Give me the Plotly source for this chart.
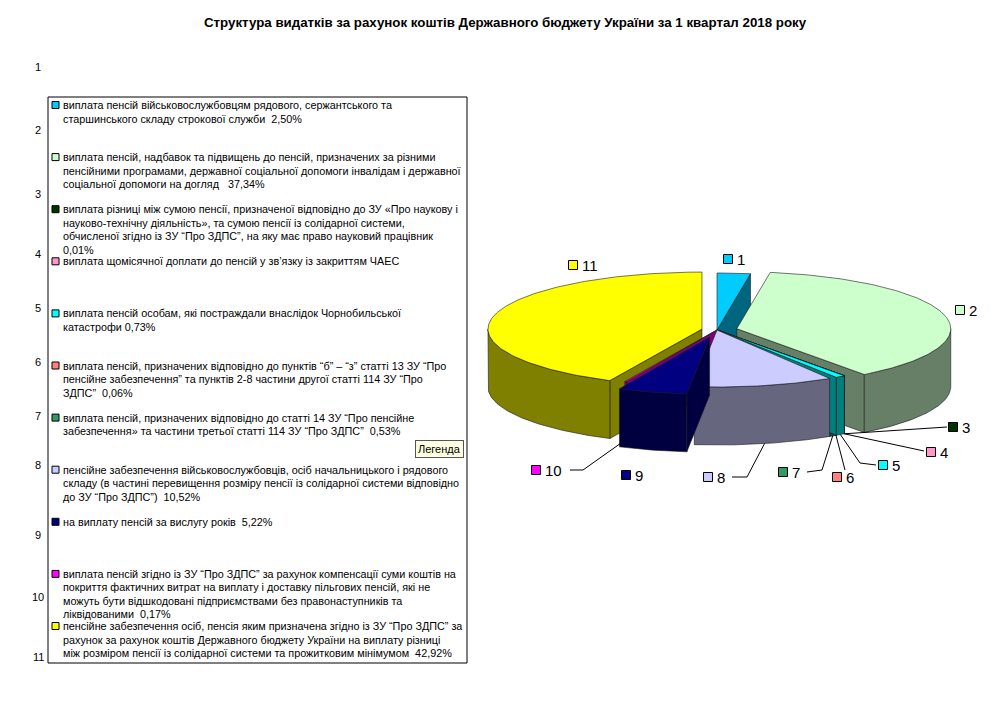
import numpy as np
import plotly.graph_objects as go

# ---------------- data ----------------
title_text = "Структура видатків за рахунок коштів Державного бюджету України за 1 квартал 2018 року"

slice_ids = ["1", "2", "3", "4", "5", "6", "7", "8", "9", "10", "11"]
# share of expenditures, % (item 4 has no value in the source, tiny placeholder)
shares = [2.50, 37.34, 0.01, 0.01, 0.73, 0.06, 0.53, 10.52, 5.22, 0.17, 42.92]

legend_lines = [
    ["виплата пенсій військовослужбовцям рядового, сержантського та",
     "старшинського складу строкової служби  2,50%"],
    ["виплата пенсій, надбавок та підвищень до пенсій, призначених за різними",
     "пенсійними програмами, державної соціальної допомоги інвалідам і державної",
     "соціальної допомоги на догляд   37,34%"],
    ["виплата різниці між сумою пенсії, призначеної відповідно до ЗУ «Про наукову і",
     "науково-технічну діяльність», та сумою пенсії із солідарної системи,",
     "обчисленої згідно із ЗУ “Про ЗДПС”, на яку має право науковий працівник",
     "0,01%"],
    ["виплата щомісячної доплати до пенсій у зв’язку із закриттям ЧАЕС"],
    ["виплата пенсій особам, які постраждали внаслідок Чорнобильської",
     "катастрофи 0,73%"],
    ["виплата пенсій, призначених відповідно до пунктів “б” – “з” статті 13 ЗУ “Про",
     "пенсійне забезпечення” та пунктів 2-8 частини другої статті 114 ЗУ “Про",
     "ЗДПС”  0,06%"],
    ["виплата пенсій, призначених відповідно до статті 14 ЗУ “Про пенсійне",
     "забезпечення» та частини третьої статті 114 ЗУ “Про ЗДПС”  0,53%"],
    ["пенсійне забезпечення військовослужбовців, осіб начальницького і рядового",
     "складу (в частині перевищення розміру пенсії із солідарної системи відповідно",
     "до ЗУ “Про ЗДПС”)  10,52%"],
    ["на виплату пенсій за вислугу років  5,22%"],
    ["виплата пенсій згідно із ЗУ “Про ЗДПС” за рахунок компенсації суми коштів на",
     "покриття фактичних витрат на виплату і доставку пільгових пенсій, які не",
     "можуть бути відшкодовані підприємствами без правонаступників та",
     "ліквідованими  0,17%"],
    ["пенсійне забезпечення осіб, пенсія яким призначена згідно із ЗУ “Про ЗДПС” за",
     "рахунок за рахунок коштів Державного бюджету України на виплату різниці",
     "між розміром пенсії із солідарної системи та прожитковим мінімумом  42,92%"],
]

row_labels = ["1", "2", "3", "4", "5", "6", "7", "8", "9", "10", "11"]

# ---------------- style / layout ----------------
top_colors = ["#00CCFF", "#CCFFCC", "#003300", "#FF99CC", "#00FFFF", "#FF8080",
              "#339966", "#CCCCFF", "#000080", "#FF00FF", "#FFFF00"]
explode = [0, 0.095, 0, 0, 0, 0, 0, 0, 0.13, 0, 0.072]

W, H = 995, 717
OFF = 8                  # default page margin of the html body
CX, CY = 717, 330        # pie centre (page pixels)
RX, RY = 214, 57         # ellipse radii
DEPTH = 58               # pie thickness
EDGE = dict(color="#1a1a1a", width=0.6)

# label square centres and leader end points (layout only)
label_pos = [(728, 259), (960, 310), (953, 427), (931, 452), (883, 465), (837, 477),
             (783, 472), (708, 477), (626, 475), (536, 470), (573, 265)]
leader_via = [None, None, [(947, 427)], [(924, 451)], [(860, 463), (876, 465)],
              [(845, 470)], [(822, 470), (807, 472)], [(747, 477), (732, 477)],
              None, [(583, 470), (570, 470)], None]

row_y = [67, 130, 194, 254, 308, 362, 416, 465, 535, 597, 657]
FONT = "Liberation Sans, Arial, sans-serif"
LEG_TOP, LEG_STEP, LINE_STEP = 105, 52.1, 13.5


def darker(hexcol):
    r, g, b = (int(hexcol[i:i + 2], 16) for i in (1, 3, 5))
    return "rgb(%d,%d,%d)" % (r // 2, g // 2, b // 2)


def pt(a, ox, oy, dz=0.0):
    t = np.radians(a)
    return CX + ox + RX * np.sin(t), CY + oy - RY * np.cos(t) + dz


def arc(a0, a1, ox, oy, dz=0.0):
    n = max(2, int(abs(a1 - a0)) + 2)
    ang = np.linspace(a0, a1, n)
    xs, ys = pt(ang, ox, oy, dz)
    return list(xs), list(ys)


def face(xs, ys, color):
    return go.Scatter(x=xs + [xs[0]], y=ys + [ys[0]], mode="lines", fill="toself",
                      fillcolor=color, line=EDGE, hoverinfo="skip", showlegend=False)


total = sum(shares)
cum = np.concatenate([[0], np.cumsum(shares)]) / total * 360.0

slices = []
for i, v in enumerate(shares):
    a0, a1 = cum[i], cum[i + 1]
    mid = (a0 + a1) / 2
    m = np.radians(mid)
    ox = explode[i] * RX * np.sin(m)
    oy = -explode[i] * RY * np.cos(m)
    traces = []
    side = darker(top_colors[i])
    cx0, cy0 = CX + ox, CY + oy
    # radial walls facing the viewer
    if np.sin(np.radians(a0)) < -1e-6:
        ex, ey = pt(a0, ox, oy)
        traces.append(face([cx0, ex, ex, cx0], [cy0, ey, ey + DEPTH, cy0 + DEPTH], side))
    if np.sin(np.radians(a1)) > 1e-6:
        ex, ey = pt(a1, ox, oy)
        traces.append(face([cx0, ex, ex, cx0], [cy0, ey, ey + DEPTH, cy0 + DEPTH], side))
    # outer wall (front half only)
    f0, f1 = max(a0, 90), min(a1, 270)
    if f1 > f0:
        tx, ty = arc(f0, f1, ox, oy)
        bx, by = arc(f1, f0, ox, oy, DEPTH)
        traces.append(face(tx + bx, ty + by, side))
    # top face
    tx, ty = arc(a0, a1, ox, oy)
    traces.append(face([cx0] + tx, [cy0] + ty, top_colors[i]))
    key = np.mean([cy0] + ty)
    anchor = pt(mid, ox, oy, DEPTH)
    slices.append((key, traces, anchor))

fig = go.Figure()
for key, traces, anchor in sorted(slices, key=lambda s: s[0]):
    for t in traces:
        fig.add_trace(t)

shapes = []
annotations = []


def txt(x, y, s, size=11, xanchor="left", **kw):
    annotations.append(dict(x=x, y=y, xref="x", yref="y", text=s, showarrow=False,
                            xanchor=xanchor, yanchor="middle",
                            font=dict(family=FONT, size=size, color="black"), **kw))


# pie labels and leader lines
for i, sid in enumerate(slice_ids):
    sx, sy = label_pos[i]
    if leader_via[i]:
        ax, ay = slices[i][2]
        lx = [ax] + [p[0] for p in leader_via[i]]
        ly = [ay] + [p[1] for p in leader_via[i]]
        fig.add_trace(go.Scatter(x=lx, y=ly, mode="lines", line=dict(color="black", width=1),
                                 hoverinfo="skip", showlegend=False))
    shapes.append(dict(type="rect", xref="x", yref="y", x0=sx - 4.5, x1=sx + 4.5,
                       y0=sy - 4.5, y1=sy + 4.5, fillcolor=top_colors[i],
                       line=dict(color="black", width=1)))
    txt(sx + 7, sy, sid, size=15)

# legend box
shapes.append(dict(type="rect", xref="x", yref="y", x0=48, x1=467, y0=97, y1=663,
                   line=dict(color="black", width=1), fillcolor="rgba(0,0,0,0)"))
for i, lines in enumerate(legend_lines):
    y0 = LEG_TOP + i * LEG_STEP
    shapes.append(dict(type="rect", xref="x", yref="y", x0=52, x1=59, y0=y0 - 3.5, y1=y0 + 3.5,
                       fillcolor=top_colors[i], line=dict(color="black", width=1)))
    for k, line in enumerate(lines):
        txt(62, y0 + k * LINE_STEP, line, size=10.8, borderpad=0)

for lab, y in zip(row_labels, row_y):
    txt(38, y, lab, xanchor="center")

txt(439, 449, "Легенда", xanchor="center", bgcolor="#FFFFE1",
    bordercolor="#555555", borderwidth=1, borderpad=2)

txt(505, 22, "<b>" + title_text + "</b>", size=13.3, xanchor="center")

fig.update_layout(
    width=W - 2 * OFF, height=H - 2 * OFF,
    margin=dict(l=0, r=0, t=0, b=0),
    paper_bgcolor="white", plot_bgcolor="white",
    xaxis=dict(range=[OFF, W - OFF], visible=False, fixedrange=True),
    yaxis=dict(range=[H - OFF, OFF], visible=False, fixedrange=True),
    shapes=shapes, annotations=annotations,
    showlegend=False,
)

fig.write_html("out.html")
